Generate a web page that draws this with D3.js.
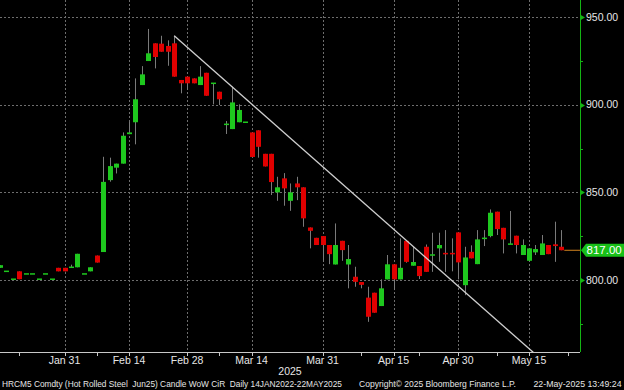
<!DOCTYPE html>
<html>
<head>
<meta charset="utf-8">
<script src="https://cdn.jsdelivr.net/npm/d3@7"></script>
<style>
  body { margin: 0; background: #000; }
  svg { display: block; font-family: "Liberation Sans", Arial, sans-serif; }
</style>
</head>
<body>
<div id="chart"></div>
<script>
// Daily candles, HRC steel Jun25 future
var dates = [
  '2025-01-16','2025-01-17','2025-01-21','2025-01-22','2025-01-23','2025-01-24','2025-01-27','2025-01-28','2025-01-29','2025-01-30','2025-01-31',
  '2025-02-03','2025-02-04','2025-02-05','2025-02-06','2025-02-07','2025-02-10','2025-02-11','2025-02-12','2025-02-13','2025-02-14',
  '2025-02-18','2025-02-19','2025-02-20','2025-02-21','2025-02-24','2025-02-25','2025-02-26','2025-02-27','2025-02-28',
  '2025-03-03','2025-03-04','2025-03-05','2025-03-06','2025-03-07','2025-03-10','2025-03-11','2025-03-12','2025-03-13','2025-03-14',
  '2025-03-17','2025-03-18','2025-03-19','2025-03-20','2025-03-21','2025-03-24','2025-03-25','2025-03-26','2025-03-27','2025-03-28','2025-03-31',
  '2025-04-01','2025-04-02','2025-04-03','2025-04-04','2025-04-07','2025-04-08','2025-04-09','2025-04-10','2025-04-11',
  '2025-04-14','2025-04-15','2025-04-16','2025-04-17','2025-04-21','2025-04-22','2025-04-23','2025-04-24','2025-04-25',
  '2025-04-28','2025-04-29','2025-04-30','2025-05-01','2025-05-02','2025-05-05','2025-05-06','2025-05-07','2025-05-08','2025-05-09',
  '2025-05-12','2025-05-13','2025-05-14','2025-05-15','2025-05-16','2025-05-19','2025-05-20','2025-05-21','2025-05-22'
]
var opens = [
  807, 805, 800.5, 805, 803.5, 803.5, 800.5, 803.5, 800.5, 807, 807,
  807.3, 807.3, 803.5, 805, 814, 816, 857, 864.1, 866.4, 883.2,
  890, 911.2, 924.9, 935, 934.8, 933.5, 935, 914.1, 916,
  915, 911.2, 918.2, 912.2, 907.4, 888.8, 886.1, 890, 890, 884.2,
  885.4, 872, 872, 850, 858, 845.2, 855.1, 852.9, 830, 824.1, 825.1,
  820, 808.9, 822.4, 808.9, 801.9, 798.9, 790, 792.8, 785.2,
  800.4, 809, 800.4, 822.4, 808.2, 808, 819, 814.3, 818.1,
  815.1, 815.1, 827.2, 797.1, 816.1, 809.1, 823.8, 825.1, 839, 829.8,
  820.5, 825.3, 814.3, 811, 815.8, 814.3, 820, 820.4, 819
]
var highs = [
  808.5, 805, 800.5, 805, 803.5, 803.5, 800.5, 803.5, 800.5, 807, 807,
  808.8, 815, 803.5, 807.3, 814, 870.3, 869.8, 866.4, 884.2, 890.3,
  915, 922, 943.2, 935, 939.3, 936.7, 939.3, 914.1, 916,
  915, 922, 918.2, 912.2, 907.4, 890.7, 910.3, 900.2, 890, 884.2,
  885.4, 872, 872, 858.9, 861, 855.1, 858.9, 852.9, 830, 824.1, 825.1,
  820, 832.3, 822.4, 820, 807.6, 798.9, 796.2, 792.8, 800.4,
  814.3, 809, 823.8, 822.4, 819, 808, 820.3, 827, 827,
  828.5, 823.8, 827.2, 819, 819.8, 828.5, 828.5, 840.3, 839, 829.8,
  839.4, 825.3, 823.2, 818.1, 820, 825.7, 820, 833.3, 828.5
]
var lows = [
  807, 805, 800.5, 800.5, 803.5, 803.5, 800.5, 803.5, 800.5, 805, 805,
  807.3, 807.3, 803.5, 805, 810, 816, 856.1, 860.8, 866.4, 883.2,
  877.4, 911.2, 924.9, 920.7, 930.2, 922.2, 916, 906.5, 908.4,
  912.2, 911.2, 905.1, 900.2, 899.8, 883.3, 886.1, 890, 890, 870.2,
  869.8, 864.8, 848.5, 845.2, 842.4, 839.5, 845.6, 830.4, 818.1, 820, 810.4,
  809.1, 808.9, 811, 795.3, 796.2, 795.3, 776.2, 781.4, 785.2,
  800.4, 794.3, 800.4, 809.9, 808.2, 800.6, 804.7, 804.7, 810.4,
  804.7, 805, 800.4, 791.4, 812.4, 809.1, 819.4, 824.4, 825.7, 815.2,
  820.5, 815.2, 814.3, 810.4, 814.3, 814.3, 814.8, 810.4, 817
]
var closes = [
  808.5, 805, 800.5, 800.5, 803.5, 803.5, 800.5, 803.5, 800.5, 805, 805,
  807.3, 815, 803.5, 807.3, 810, 856, 865, 866.4, 882.3, 884.2,
  903.1, 917.3, 929.3, 927.2, 930.2, 930.2, 916, 912.2, 912.2,
  912.2, 916, 905.1, 912.2, 903.1, 888.8, 901.3, 897, 890, 870.2,
  876, 864.8, 855.9, 852.9, 852.3, 850, 852.9, 835.2, 828.1, 820, 820,
  814.8, 820, 817.1, 812, 799, 797.3, 779.1, 781.4, 795.3,
  809, 800.4, 807, 810.4, 810.3, 802.3, 804.7, 814.3, 820,
  814.5, 814.5, 810.1, 812.9, 812.4, 823.2, 823.8, 838.4, 829.1, 823.2,
  820.5, 820, 820, 818.1, 817.7, 820.9, 814.8, 819.4, 817
]

// axis days past the last candle
var futureDays = ['2025-05-23']
var labelTicks = ['2025-01-31','2025-02-14','2025-02-28','2025-03-14','2025-03-31','2025-04-15','2025-04-30','2025-05-15']
var labelNames = ['Jan 31','Feb 14','Feb 28','Mar 14','Mar 31','Apr 15','Apr 30','May 15']
var minorTicks = ['2025-01-22','2025-02-07','2025-03-07','2025-04-08','2025-04-22','2025-05-08','2025-05-23']
var priceTicks = [800, 850, 900, 950]
var minorPriceTicks = [775, 825, 875, 925]
var trendDates = ['2025-02-26', '2025-05-16']
var trendPrices = [939.3, 757.7]
var lastPrice = 817

var width = 624,
    height = 390,
    plotRight = 580,
    plotBottom = 352,
    candleWidth = 5

var axisDays = dates.concat(futureDays)
var dayIndex = function (d) { return axisDays.indexOf(d) }

var x = d3.scaleLinear()
    .domain([0, dates.length + 1.9])
    .range([0, plotRight])

var y = d3.scaleLinear()
    .domain([759, 959.7])
    .range([plotBottom, 0])

var svg = d3.select('#chart')
    .append('svg')
    .attr('width', width)
    .attr('height', height)

svg.append('rect')
    .attr('width', width)
    .attr('height', height)
    .attr('fill', '#000')

svg.append('clipPath')
    .attr('id', 'plot')
    .append('rect')
    .attr('width', plotRight)
    .attr('height', plotBottom)

// dotted grid
var grid = svg.append('g')
    .attr('stroke', '#6e6e6e')
    .attr('stroke-dasharray', '2,2')
    .attr('shape-rendering', 'crispEdges')

grid.selectAll('.hgrid')
    .data(priceTicks)
    .enter()
    .append('line')
    .attr('x1', 0)
    .attr('x2', plotRight)
    .attr('y1', function(d) { return Math.round(y(d)) + 0.5 })
    .attr('y2', function(d) { return Math.round(y(d)) + 0.5 })

grid.selectAll('.vgrid')
    .data(labelTicks)
    .enter()
    .append('line')
    .attr('y1', 0)
    .attr('y2', plotBottom)
    .attr('x1', function(d) { return Math.round(x(dayIndex(d))) + 0.5 })
    .attr('x2', function(d) { return Math.round(x(dayIndex(d))) + 0.5 })

// candles
var candles = dates.map(function(d, i) {
    return { i: i, o: opens[i], h: highs[i], l: lows[i], c: closes[i] }
})

var candle = svg.append('g')
    .attr('clip-path', 'url(#plot)')
    .selectAll('.candle')
    .data(candles)
    .enter()
    .append('g')
    .attr('class', 'candle')

candle.append('line')
    .attr('x1', function(d) { return Math.round(x(d.i)) + 0.5 })
    .attr('x2', function(d) { return Math.round(x(d.i)) + 0.5 })
    .attr('y1', function(d) { return y(d.h) })
    .attr('y2', function(d) { return y(d.l) })
    .attr('stroke', '#7a7a7a')

candle.append('rect')
    .attr('x', function(d) { return Math.round(x(d.i)) - 2 })
    .attr('width', candleWidth)
    .attr('y', function(d) { return y(Math.max(d.o, d.c)) - (Math.abs(d.o - d.c) < 1 ? 0.75 : 0) })
    .attr('height', function(d) { return Math.max(1.5, Math.abs(y(d.o) - y(d.c))) })
    .attr('fill', function(d) { return d.c >= d.o ? '#1ec81e' : '#e00000' })

// trend line
svg.append('path')
    .attr('clip-path', 'url(#plot)')
    .datum(trendDates.map(function(d, i) { return [dayIndex(d), trendPrices[i]] }))
    .attr('d', d3.line()
        .x(function(d) { return x(d[0]) })
        .y(function(d) { return y(d[1]) }))
    .attr('stroke', '#d0d0d0')
    .attr('stroke-width', 1.3)
    .attr('fill', 'none')

// last price line
svg.append('line')
    .attr('x1', x(dates.length - 1) + 3)
    .attr('x2', plotRight)
    .attr('y1', y(lastPrice))
    .attr('y2', y(lastPrice))
    .attr('stroke', '#d2841e')

// bottom axis
var xAxis = svg.append('g')
    .attr('transform', 'translate(0,' + plotBottom + ')')

xAxis.append('line')
    .attr('x1', 0)
    .attr('x2', plotRight)
    .attr('y1', 0.5)
    .attr('y2', 0.5)
    .attr('stroke', '#c8c8c8')

xAxis.selectAll('.tick')
    .data(labelTicks.concat(minorTicks))
    .enter()
    .append('line')
    .attr('x1', function(d) { return Math.round(x(dayIndex(d))) + 0.5 })
    .attr('x2', function(d) { return Math.round(x(dayIndex(d))) + 0.5 })
    .attr('y1', 0)
    .attr('y2', 4)
    .attr('stroke', '#c8c8c8')

xAxis.selectAll('.label')
    .data(labelTicks)
    .enter()
    .append('text')
    .attr('x', function(d) { return x(dayIndex(d)) })
    .attr('y', 11.5)
    .attr('text-anchor', 'middle')
    .attr('fill', '#e6e6e6')
    .style('font-size', '10.5px')
    .text(function(d, i) { return labelNames[i] })

xAxis.append('text')
    .attr('x', plotRight / 2)
    .attr('y', 22.5)
    .attr('text-anchor', 'middle')
    .attr('fill', '#e6e6e6')
    .style('font-size', '10.5px')
    .text('2025')

// right price axis
var yAxis = svg.append('g')

yAxis.append('line')
    .attr('x1', plotRight + 0.5)
    .attr('x2', plotRight + 0.5)
    .attr('y1', 0)
    .attr('y2', plotBottom)
    .attr('stroke', '#14b414')

yAxis.selectAll('.arrow')
    .data(priceTicks)
    .enter()
    .append('path')
    .attr('d', function(d) {
        var ty = Math.round(y(d)) + 0.5
        return 'M' + plotRight + ',' + (ty - 3) + 'L' + (plotRight + 5) + ',' + ty + 'L' + plotRight + ',' + (ty + 3) + 'Z'
    })
    .attr('fill', '#14b414')

yAxis.selectAll('.minor')
    .data(minorPriceTicks)
    .enter()
    .append('line')
    .attr('x1', plotRight)
    .attr('x2', plotRight + 3)
    .attr('y1', function(d) { return Math.round(y(d)) + 0.5 })
    .attr('y2', function(d) { return Math.round(y(d)) + 0.5 })
    .attr('stroke', '#14b414')

yAxis.selectAll('.plabel')
    .data(priceTicks)
    .enter()
    .append('text')
    .attr('x', plotRight + 6)
    .attr('y', function(d) { return y(d) })
    .attr('dy', '0.36em')
    .attr('fill', '#e6e6e6')
    .style('font-size', '10.5px')
    .text(function(d) { return d.toFixed(2) })

// last price tag
var ly = y(lastPrice)
yAxis.append('path')
    .attr('d', 'M' + (plotRight + 1) + ',' + ly + 'L' + (plotRight + 6) + ',' + (ly - 6.5) +
        'L' + width + ',' + (ly - 6.5) + 'L' + width + ',' + (ly + 6.5) + 'L' + (plotRight + 6) + ',' + (ly + 6.5) + 'Z')
    .attr('fill', '#18c018')

yAxis.append('text')
    .attr('x', plotRight + 6.5)
    .attr('y', ly)
    .attr('dy', '0.36em')
    .attr('fill', '#ffffff')
    .style('font-size', '11.5px')
    .text(lastPrice.toFixed(2))

// footer
var footer = svg.append('g')
    .attr('fill', '#e6e6e6')

footer.append('text')
    .attr('x', 2)
    .attr('y', 387)
    .style('font-size', '8.5px')
    .attr('textLength', 340)
    .attr('lengthAdjust', 'spacingAndGlyphs')
    .text('HRCM5 Comdty (Hot Rolled Steel \u00a0Jun25) Candle WoW CiR \u00a0Daily 14JAN2022-22MAY2025')

footer.append('text')
    .attr('x', 359)
    .attr('y', 387)
    .style('font-size', '8.7px')
    .attr('textLength', 157)
    .attr('lengthAdjust', 'spacingAndGlyphs')
    .text('Copyright\u00a9 2025 Bloomberg Finance L.P.')

footer.append('text')
    .attr('x', 621.5)
    .attr('y', 387)
    .attr('text-anchor', 'end')
    .style('font-size', '9px')
    .attr('textLength', 88)
    .attr('lengthAdjust', 'spacingAndGlyphs')
    .text('22-May-2025 13:49:24')
</script>
</body>
</html>
